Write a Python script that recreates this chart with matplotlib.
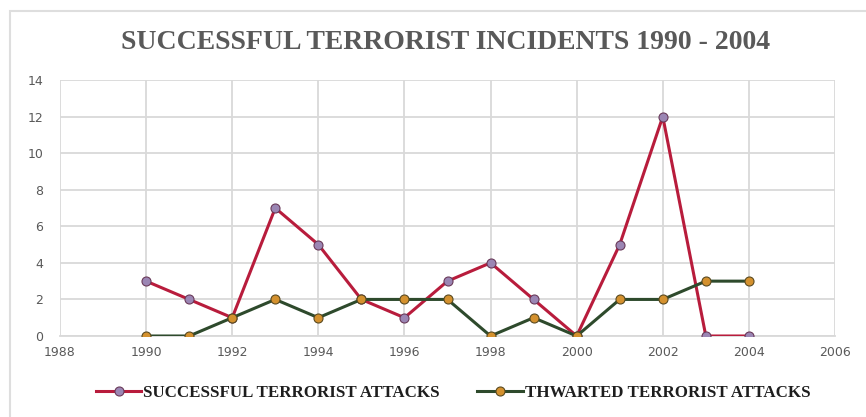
import matplotlib.pyplot as plt
from matplotlib.patches import Rectangle

# incidents per year, 1990-2004
years = [1990, 1991, 1992, 1993, 1994, 1995, 1996, 1997, 1998, 1999, 2000, 2001, 2002, 2003, 2004]
successful = [3, 2, 1, 7, 5, 2, 1, 3, 4, 2, 0, 5, 12, 0, 0]
thwarted = [0, 0, 1, 2, 1, 2, 2, 2, 0, 1, 0, 2, 2, 3, 3]

x_ticks = list(range(1988, 2007, 2))
y_ticks = list(range(0, 15, 2))

fig = plt.figure(figsize=(8.66, 4.17), dpi=100)
ax = fig.add_axes([60 / 866, 1 - 336 / 417, 775 / 866, 256 / 417])

# outer chart border (runs off the right and bottom edges)
fig.add_artist(Rectangle((10 / 866, -0.05), 0.99, 1.05 - 11 / 417,
                         transform=fig.transFigure, fill=False,
                         edgecolor="#dedede", linewidth=1.5))

ax.plot(years, successful, color="#b81c3c", linewidth=2.2, marker="o",
        markersize=6.5, markerfacecolor="#9b86b4", markeredgecolor="#6a3a5a",
        markeredgewidth=0.8, label="SUCCESSFUL TERRORIST ATTACKS", zorder=3)
ax.plot(years, thwarted, color="#2e4a2c", linewidth=2.2, marker="o",
        markersize=6.5, markerfacecolor="#d4912e", markeredgecolor="#5a4a20",
        markeredgewidth=0.8, label="THWARTED TERRORIST ATTACKS", zorder=3)

ax.set_xlim(1988, 2006)
ax.set_ylim(0, 14)
ax.set_xticks(x_ticks)
ax.set_yticks(y_ticks)
ax.grid(True, color="#d9d9d9", linewidth=1.3)
ax.set_axisbelow(True)
for side in ("top", "right", "left"):
    ax.spines[side].set_visible(False)
ax.spines["bottom"].set_color("#d9d9d9")
ax.spines["bottom"].set_linewidth(1.3)
ax.tick_params(length=0, labelsize=9, colors="#595959")
ax.tick_params(axis="y", pad=12)
ax.tick_params(axis="x", pad=7)

fig.text(0.514, 0.898, "SUCCESSFUL TERRORIST INCIDENTS 1990 - 2004",
         ha="center", va="center", fontsize=20, fontweight="bold",
         family="Liberation Serif", color="#595959")

fig.legend(loc="center", bbox_to_anchor=(0.523, 0.057), ncol=2, frameon=False,
           prop={"family": "Liberation Serif", "weight": "bold", "size": 12.2},
           labelcolor="#1e1e1e", handlelength=2.7, columnspacing=2.2,
           handletextpad=0.1)

fig.savefig("out.png", dpi=100)
